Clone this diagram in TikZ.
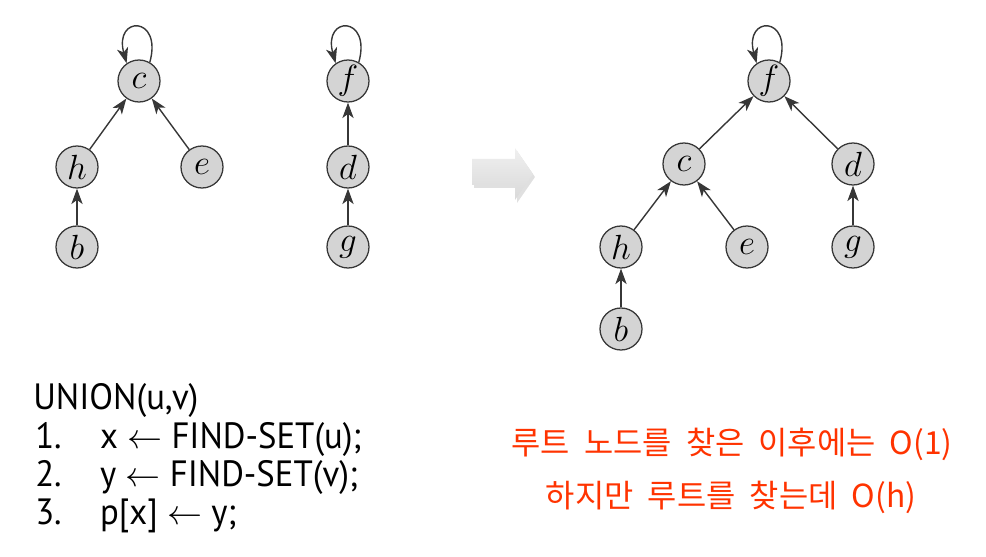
\documentclass[tikz,border=0pt]{standalone}
\usepackage{fontspec}
\newfontfamily\codefont[FakeStretch=0.95]{PT Sans}
\newfontfamily\kofont{Noto Sans CJK KR}
\usepackage{tikz}
\usetikzlibrary{arrows.meta}
\definecolor{nodegray}{RGB}{212,212,212}
\definecolor{edgegray}{RGB}{55,55,55}
\definecolor{notered}{RGB}{255,51,0}
\newcommand{\selfloop}[1]{
  \draw[parent] (#1.60) .. controls +(13,-47) and +(-13,-48) .. (#1.125);
}

\begin{document}
\begin{tikzpicture}[x=0.025cm,y=-0.025cm,
    setnode/.style={circle,draw=edgegray,line width=0.9pt,fill=nodegray,minimum size=1.05cm,inner sep=0pt,font=\fontsize{24}{28}\selectfont},
    parent/.style={-{Stealth[length=11pt,width=8pt,inset=3pt]},edgegray,line width=1pt},
    code/.style={anchor=base west,inner sep=0pt,text height=0.66cm,text depth=0.16cm,font=\codefont\fontsize{26}{29}\selectfont},
    note/.style={inner sep=0pt,text=notered,font=\kofont\fontsize{22.6}{26}\selectfont}]
      \useasboundingbox (0,0) rectangle (986,557);

      % two sets before the union
      \node[setnode] (c1) at (139,81)  {$c$};
      \node[setnode] (h1) at (77,167)  {$h$};
      \node[setnode] (e1) at (202,167) {$e$};
      \node[setnode] (b1) at (77,247)  {$b$};
      \draw[parent] (h1) -- (c1);
      \draw[parent] (e1) -- (c1);
      \draw[parent] (b1) -- (h1);
      \selfloop{c1}

      \node[setnode] (f1) at (348,81)  {$f$};
      \node[setnode] (d1) at (348,167) {$d$};
      \node[setnode] (g1) at (348,247) {$g$};
      \draw[parent] (d1) -- (f1);
      \draw[parent] (g1) -- (d1);
      \selfloop{f1}

      % block arrow
      \fill[gray!40,opacity=0.6] (474,162) -- (517,162) -- (517,151) -- (535,177) -- (517,203) -- (517,188) -- (474,188) -- cycle;
      \shade[top color=gray!12,bottom color=gray!30] (472,159) -- (515,159) -- (515,148) -- (533,174) -- (515,200) -- (515,185) -- (472,185) -- cycle;

      % after the union
      \node[setnode] (f2) at (769,81)  {$f$};
      \node[setnode] (c2) at (684,164) {$c$};
      \node[setnode] (d2) at (853,164) {$d$};
      \node[setnode] (h2) at (621,247) {$h$};
      \node[setnode] (e2) at (747,247) {$e$};
      \node[setnode] (g2) at (853,247) {$g$};
      \node[setnode] (b2) at (621,329) {$b$};
      \draw[parent] (c2) -- (f2);
      \draw[parent] (d2) -- (f2);
      \draw[parent] (h2) -- (c2);
      \draw[parent] (e2) -- (c2);
      \draw[parent] (g2) -- (d2);
      \draw[parent] (b2) -- (h2);
      \selfloop{f2}

      % pseudocode
      \node[code] (union) at (33,409) {UNION(u,v)};
      \node[code] (line1) at (35,448) {\makebox[1.62cm][l]{1.}x \(\leftarrow\) FIND-SET(u);};
      \node[code] (line2) at (35,486) {\makebox[1.62cm][l]{2.}y \(\leftarrow\) FIND-SET(v);};
      \node[code] (line3) at (35,524) {\makebox[1.62cm][l]{3.}p[x] \(\leftarrow\) y;};

      % remarks
      \node[note] (note1) at (732,444) {루트\ \ 노드를\ \ 찾은\ \ 이후에는\ \ O(1)};
      \node[note] (note2) at (731,497) {하지만\ \ 루트를\ \ 찾는데\ \ O(h)};
\end{tikzpicture}
\end{document}
